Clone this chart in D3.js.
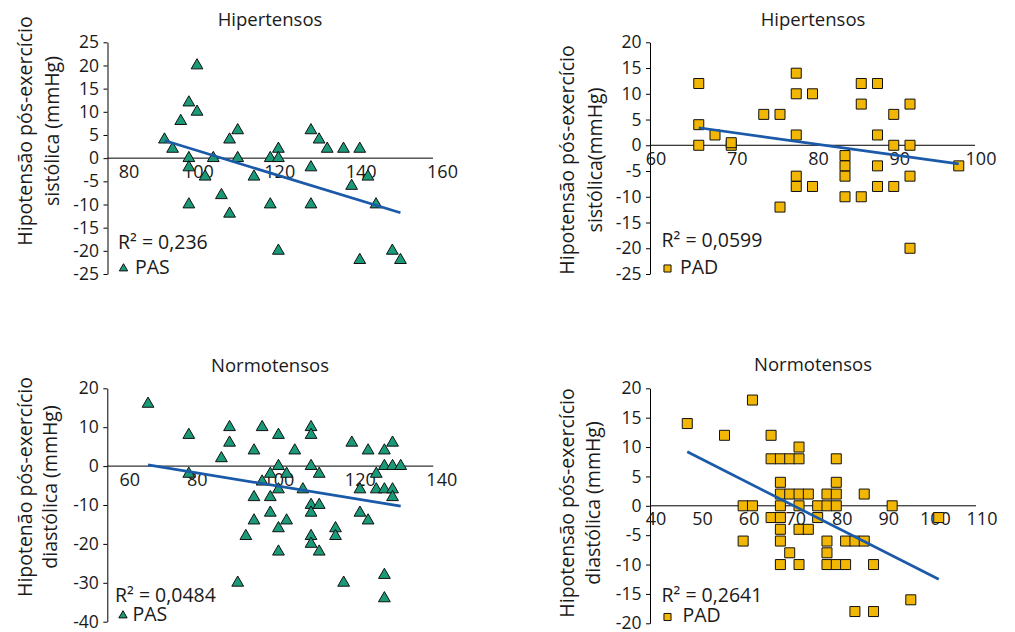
<!DOCTYPE html>
<html>
<head>
<meta charset="utf-8">
<script src="https://cdn.jsdelivr.net/npm/d3@7"></script>
<style>
  body { margin: 0; background: #fff; }
  text { font-family: "Open Sans", sans-serif; fill: #1a1a1a; }
</style>
</head>
<body>
<svg id="chart" width="1015" height="632"></svg>
<script>
// Hipertensos - PAS (pressao de repouso x hipotensao sistolica)
var hipPasX = [94, 96, 98, 100, 100, 100, 100, 102, 102, 104, 106, 108, 110, 110, 112, 112, 116, 120, 120, 122, 122, 122, 130, 130, 130, 132, 134, 138, 140, 142, 142, 144, 146, 150, 152];
var hipPasY = [4, 2, 8, 12, 0, -2, -10, 20, 10, -4, 0, -8, 4, -12, 6, 0, -4, 0, -10, 2, 0, -20, 6, -2, -10, 4, 2, 2, -6, 2, -22, -4, -10, -20, -22];
var hipPasTrend = [[94, 3.8], [152, -11.8]];

// Hipertensos - PAD
var hipPadX = [66, 66, 66, 68, 70, 70, 74, 76, 76, 78, 78, 78, 78, 78, 80, 80, 84, 84, 84, 84, 86, 86, 86, 88, 88, 88, 88, 90, 90, 90, 92, 92, 92, 92, 98];
var hipPadY = [12, 4, 0, 2, 0, 0.5, 6, 6, -12, 14, 10, 2, -6, -8, 10, -8, -2, -4, -6, -10, 12, 8, -10, 12, 2, -4, -8, 6, 0, -8, 8, 0, -6, -20, -4];
var hipPadTrend = [[66, 3.4], [98, -3.6]];

// Normotensos - PAS
var norPasX = [70, 80, 80, 88, 90, 90, 92, 94, 96, 96, 96, 98, 98, 100, 100, 100, 102, 102, 102, 102, 102, 104, 104, 106, 108, 110, 110, 110, 110, 110, 110, 110, 112, 112, 112, 116, 116, 118, 120, 122, 122, 124, 124, 126, 126, 128, 128, 128, 128, 128, 130, 130, 130, 130, 132];
var norPasY = [16, 8, -2, 2, 10, 6, -30, -18, 4, -8, -14, 10, -4, -2, -8, -12, 8, 0, -6, -16, -22, -2, -14, 4, -6, 10, 8, 0, -10, -12, -18, -20, -2, -10, -22, -16, -18, -30, 6, -6, -12, 4, -14, -2, -6, 4, 0, -6, -28, -34, 6, 0, -6, -8, 0];
var norPasTrend = [[70, 0.3], [132, -10.3]];

// Normotensos - PAD
var norPadX = [48, 56, 60, 60, 62, 62, 66, 66, 66, 68, 68, 68, 68, 68, 68, 68, 68, 70, 70, 70, 72, 72, 72, 72, 72, 72, 74, 74, 76, 76, 78, 78, 78, 78, 78, 80, 80, 80, 80, 80, 82, 82, 84, 84, 86, 86, 88, 88, 92, 96, 102];
var norPadY = [14, 12, 0, -6, 18, 0, 12, 8, -2, 8, 4, 2, 0, -2, -4, -6, -10, 8, 2, -8, 10, 8, 2, 0, -4, -10, 2, -4, 0, -2, 2, 0, -6, -8, -10, 8, 4, 2, 0, -10, -6, -10, -6, -18, 2, -6, -10, -18, 0, -16, -2];
var norPadTrend = [[48, 9.2], [102, -12.5]];

var r2Labels = ["R² = 0,236", "R² = 0,0599", "R² = 0,0484", "R² = 0,2641"];

var svg = d3.select("#chart");

function drawPanel(p) {
  var g = svg.append("g");
  var x = d3.scaleLinear().domain(p.xDomain).range(p.xRange);
  var y = d3.scaleLinear().domain(p.yDomain).range(p.yRange);
  var axisX = p.xRange[0];

  // title
  g.append("text")
    .attr("x", p.titleX).attr("y", p.titleY).attr("dy", "0.35em")
    .attr("text-anchor", "middle").style("font-size", "18.5px")
    .text(p.title);

  // y axis title, two lines
  p.yTitle.forEach(function(line, i) {
    g.append("text")
      .attr("transform", "translate(" + p.yTitleX[i] + "," + p.yTitleY + ") rotate(-90)")
      .attr("dy", "0.35em").attr("text-anchor", "middle")
      .style("font-size", "19.5px")
      .text(line);
  });

  // y axis
  var yAxis = g.append("g")
    .attr("transform", "translate(" + axisX + ",0)")
    .call(d3.axisLeft(y)
      .tickValues(d3.range(p.yDomain[0], p.yDomain[1] + 1, p.yStep))
      .tickSize(4).tickSizeOuter(0).tickPadding(4.5)
      .tickFormat(function(d) { return String(d); }));
  yAxis.selectAll("path, line").attr("stroke", "#000");
  yAxis.selectAll("text").attr("fill", "#1a1a1a")
    .style("font-family", "'Open Sans', sans-serif").style("font-size", "17.5px");

  // x axis crossing at y = 0
  var xAxis = g.append("g")
    .attr("transform", "translate(0," + y(0) + ")")
    .call(d3.axisBottom(x)
      .tickValues(p.xTicks)
      .tickSize(0).tickSizeOuter(0)
      .tickFormat(function(d) { return String(d); }));
  xAxis.select(".domain").attr("stroke", "#000")
    .attr("d", "M" + axisX + ",0H" + p.xRange[1]);
  xAxis.selectAll("text").attr("fill", "#1a1a1a")
    .style("font-family", "'Open Sans', sans-serif").style("font-size", "18px")
    .attr("y", p.labelOffset).attr("dy", "0.35em")
    .attr("dx", function(d, i) { return i === 0 ? p.firstDx : p.labelDx; });

  // markers
  var sym = p.shape === "triangle"
    ? d3.symbol().type(d3.symbolTriangle).size(60)
    : d3.symbol().type(d3.symbolSquare).size(100);
  var pts = p.xs.map(function(v, i) { return [v, p.ys[i]]; });
  g.append("g").selectAll("path").data(pts).join("path")
    .attr("d", sym)
    .attr("transform", function(d) { return "translate(" + x(d[0]) + "," + y(d[1]) + ")"; })
    .attr("fill", p.color).attr("stroke", "#111").attr("stroke-width", 1);

  // trend line
  g.append("path")
    .datum(p.trend)
    .attr("d", d3.line().x(function(d) { return x(d[0]); }).y(function(d) { return y(d[1]); }))
    .attr("fill", "none").attr("stroke", "#1b5aa8").attr("stroke-width", 2.7);

  // R² label
  g.append("text")
    .attr("x", p.r2X).attr("y", p.r2Y).attr("dy", "0.35em")
    .style("font-size", "19.5px")
    .text(p.r2);

  // legend
  var legSym = p.shape === "triangle"
    ? d3.symbol().type(d3.symbolTriangle).size(30)
    : d3.symbol().type(d3.symbolSquare).size(50);
  g.append("path").attr("d", legSym)
    .attr("transform", "translate(" + p.legX + "," + p.legY + ")")
    .attr("fill", p.color).attr("stroke", "#111").attr("stroke-width", 1);
  g.append("text")
    .attr("x", p.legTextX).attr("y", p.legY - 1.5).attr("dy", "0.35em")
    .style("font-size", "19.5px")
    .text(p.legend);
}

var teal = "#1a9a78";
var gold = "#f2b705";

drawPanel({
  xs: hipPasX, ys: hipPasY, trend: hipPasTrend, shape: "triangle", color: teal,
  title: "Hipertensos", titleX: 270, titleY: 20,
  yTitle: ["Hipotensão pós-exercício", "sistólica (mmHg)"], yTitleX: [25, 52], yTitleY: 131,
  xDomain: [80, 160], xRange: [107.5, 433], xTicks: [80, 100, 120, 140, 160],
  yDomain: [-25, 25], yRange: [274, 42.3], yStep: 5,
  labelOffset: 14, labelDx: 9, firstDx: 21,
  r2: r2Labels[0], r2X: 118, r2Y: 242,
  legend: "PAS", legX: 123.5, legY: 268.5, legTextX: 135
});

drawPanel({
  xs: hipPadX, ys: hipPadY, trend: hipPadTrend, shape: "square", color: gold,
  title: "Hipertensos", titleX: 813, titleY: 20,
  yTitle: ["Hipotensão pós-exercício", "sistólica(mmHg)"], yTitleX: [567, 595], yTitleY: 160,
  xDomain: [60, 100], xRange: [650, 975], xTicks: [60, 70, 80, 90, 100],
  yDomain: [-25, 20], yRange: [274, 42.3], yStep: 5,
  labelOffset: 13.3, labelDx: 5.5, firstDx: 5.5,
  r2: r2Labels[1], r2X: 661.5, r2Y: 240,
  legend: "PAD", legX: 667.5, legY: 268.5, legTextX: 680
});

drawPanel({
  xs: norPasX, ys: norPasY, trend: norPasTrend, shape: "triangle", color: teal,
  title: "Normotensos", titleX: 270, titleY: 366,
  yTitle: ["Hipotenão pós-exercício", "diastólica (mmHg)"], yTitleX: [25, 50], yTitleY: 487,
  xDomain: [60, 140], xRange: [107.3, 433.3], xTicks: [60, 80, 100, 120, 140],
  yDomain: [-40, 20], yRange: [621.7, 388.3], yStep: 10,
  labelOffset: 14, labelDx: 8, firstDx: 22,
  r2: r2Labels[2], r2X: 115, r2Y: 595,
  legend: "PAS", legX: 123, legY: 615.5, legTextX: 132.5
});

drawPanel({
  xs: norPadX, ys: norPadY, trend: norPadTrend, shape: "square", color: gold,
  title: "Normotensos", titleX: 813, titleY: 365,
  yTitle: ["Hipotensão pós-exercício", "diastólica (mmHg)"], yTitleX: [567, 593.5], yTitleY: 503,
  xDomain: [40, 110], xRange: [650, 976], xTicks: [40, 50, 60, 70, 80, 90, 100, 110],
  yDomain: [-20, 20], yRange: [623.3, 388.3], yStep: 5,
  labelOffset: 13.3, labelDx: 5.5, firstDx: 5.5,
  r2: r2Labels[3], r2X: 661.5, r2Y: 595,
  legend: "PAD", legX: 667.5, legY: 617, legTextX: 682.5
});
</script>
</body>
</html>
